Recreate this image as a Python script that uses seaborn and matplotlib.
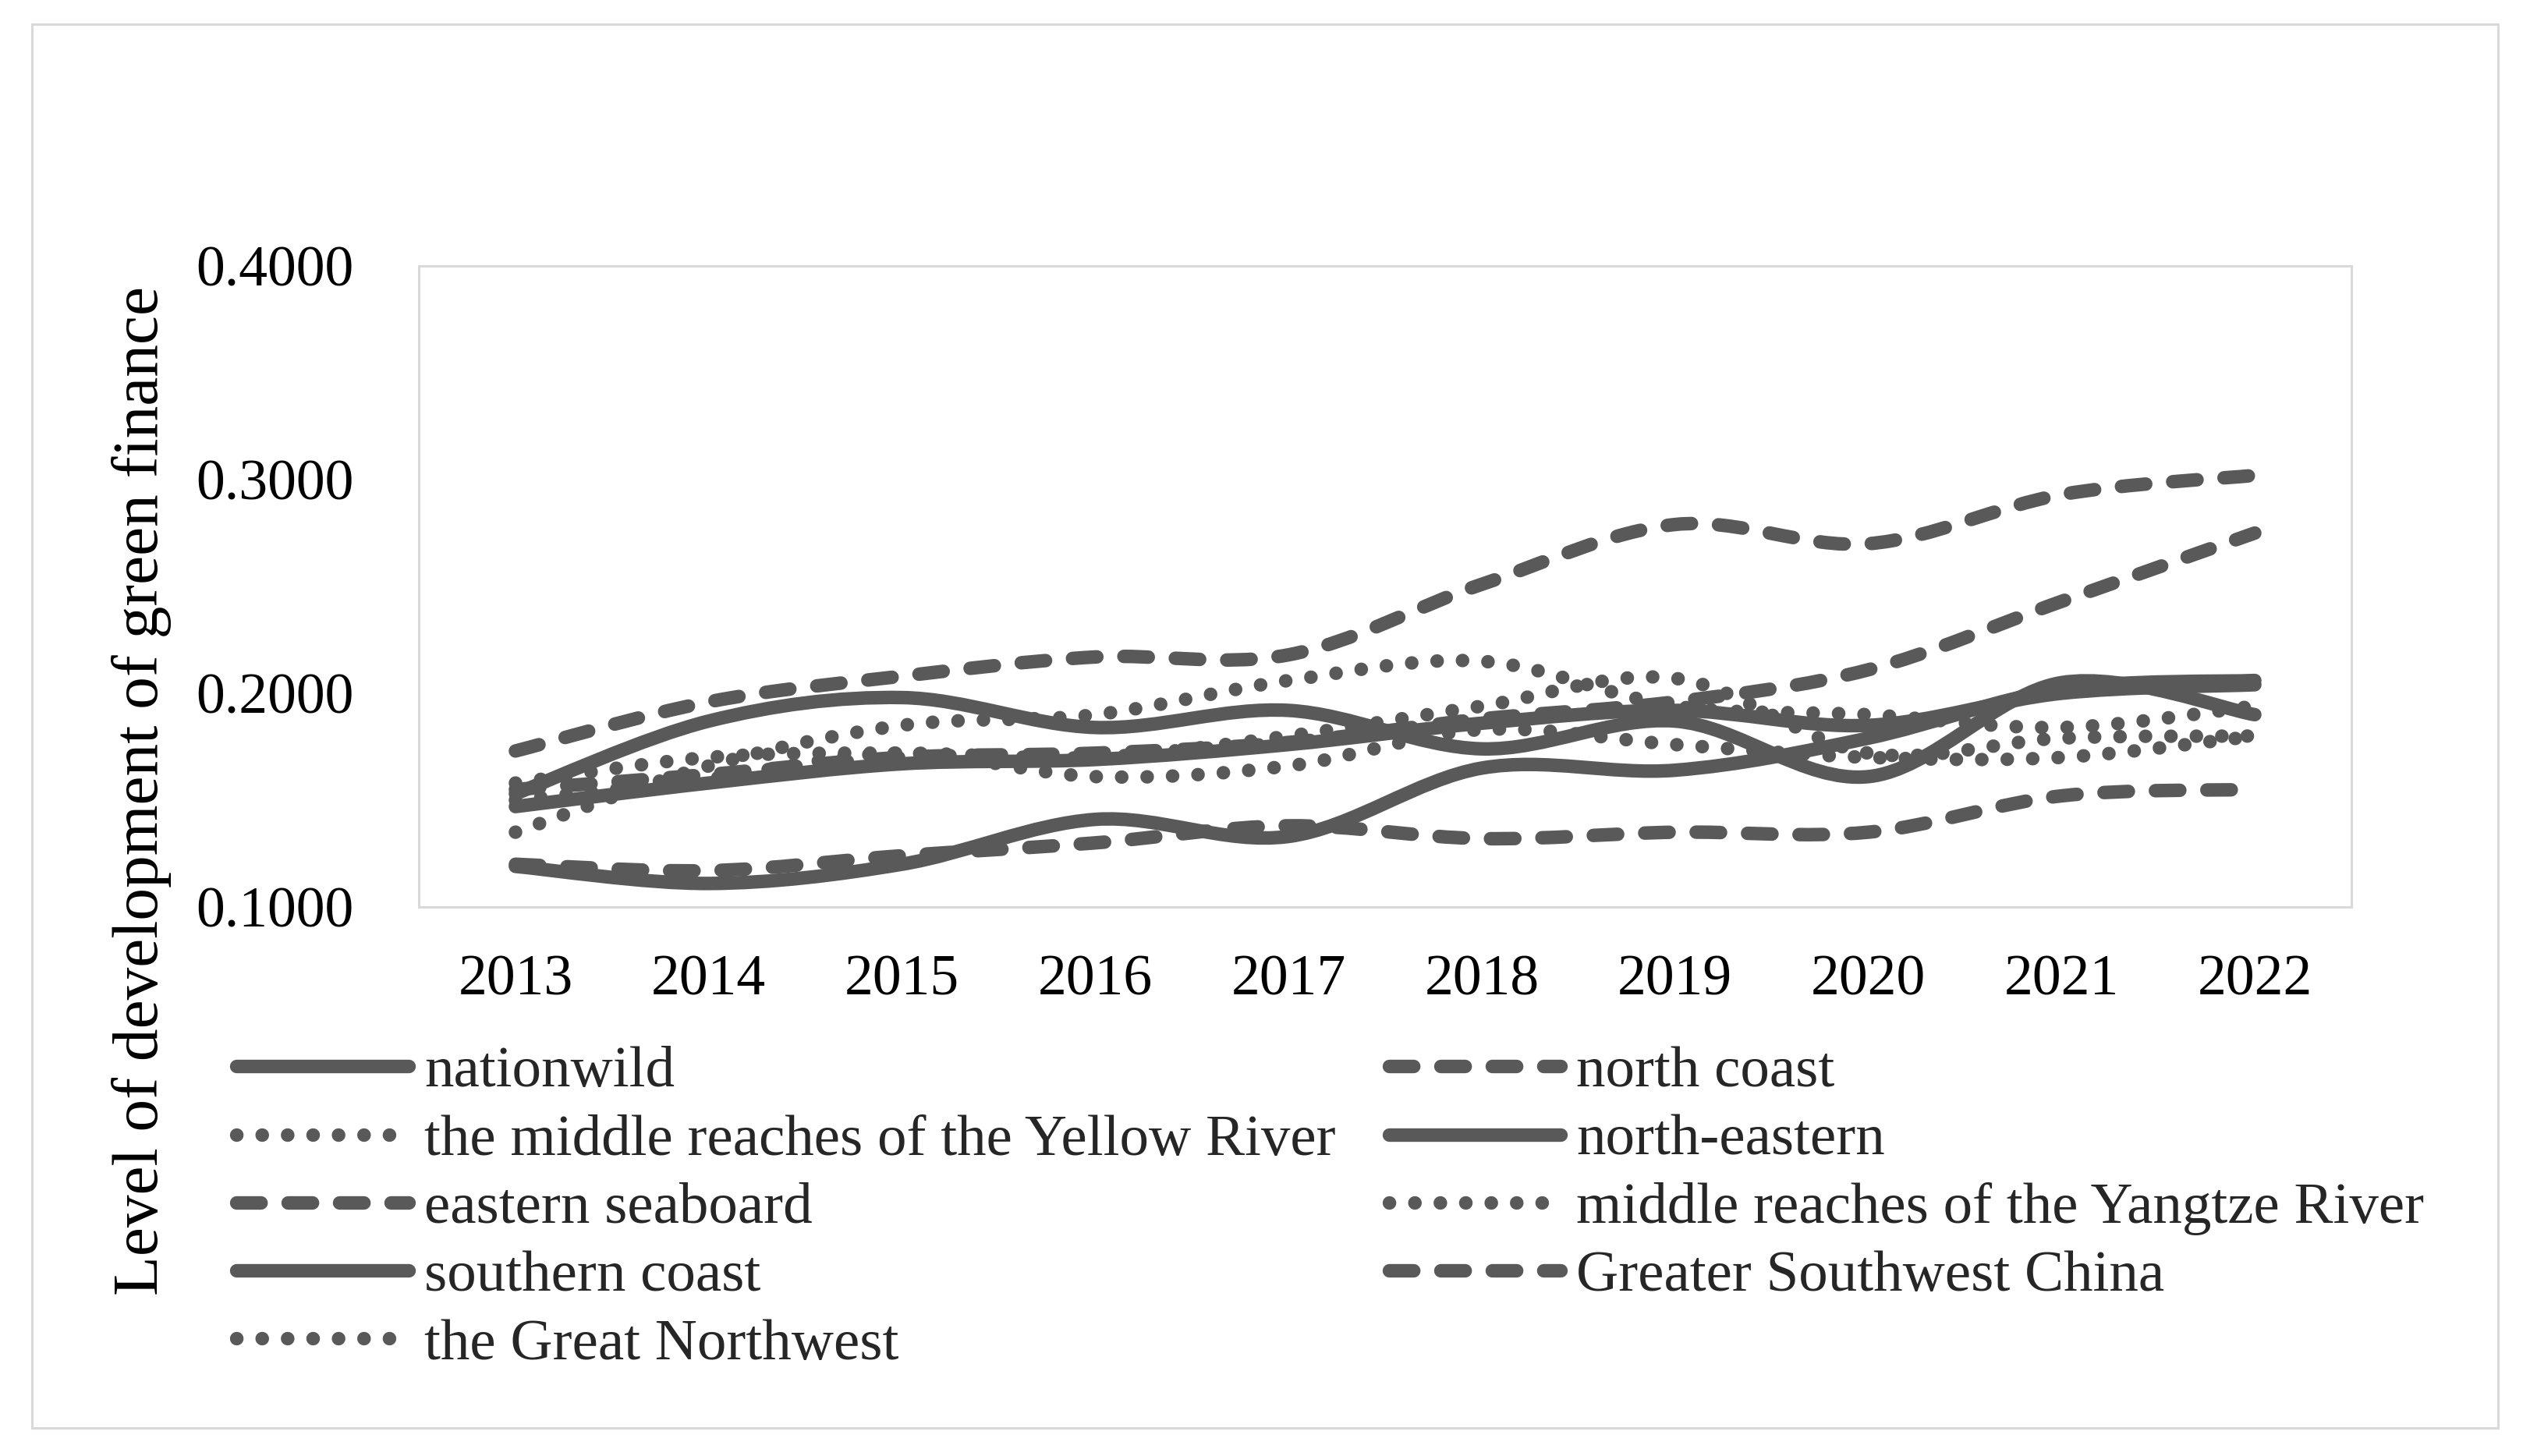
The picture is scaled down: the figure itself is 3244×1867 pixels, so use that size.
import numpy as np
import pandas as pd
import matplotlib
matplotlib.use("Agg")
import matplotlib.pyplot as plt
import seaborn as sns
from matplotlib.path import Path
from matplotlib.patches import PathPatch, Rectangle
from matplotlib.lines import Line2D

# ---------------- data ----------------
years = [2013, 2014, 2015, 2016, 2017, 2018, 2019, 2020, 2021, 2022]
nationwild        = [0.147, 0.158, 0.167, 0.169, 0.176, 0.186, 0.192, 0.185, 0.200, 0.204]
north_coast       = [0.155, 0.162, 0.170, 0.172, 0.177, 0.188, 0.196, 0.211, 0.243, 0.275]
yellow_river      = [0.135, 0.166, 0.185, 0.190, 0.206, 0.215, 0.194, 0.190, 0.184, 0.194]
north_eastern     = [0.153, 0.187, 0.198, 0.184, 0.192, 0.174, 0.187, 0.161, 0.205, 0.190]
eastern_seaboard  = [0.173, 0.196, 0.208, 0.217, 0.218, 0.251, 0.279, 0.270, 0.293, 0.302]
yangtze           = [0.158, 0.170, 0.172, 0.170, 0.180, 0.194, 0.207, 0.172, 0.179, 0.180]
southern_coast    = [0.119, 0.111, 0.120, 0.141, 0.133, 0.165, 0.164, 0.179, 0.202, 0.206]
greater_southwest = [0.120, 0.117, 0.124, 0.130, 0.138, 0.132, 0.135, 0.135, 0.152, 0.155]
great_northwest   = [0.150, 0.160, 0.172, 0.161, 0.166, 0.183, 0.176, 0.170, 0.170, 0.180]

labels = ["nationwild", "north coast", "the middle reaches of the Yellow River",
          "north-eastern", "eastern seaboard", "middle reaches of the Yangtze River",
          "southern coast", "Greater Southwest China", "the Great Northwest"]
series = [nationwild, north_coast, yellow_river, north_eastern, eastern_seaboard,
          yangtze, southern_coast, greater_southwest, great_northwest]
kinds = ["solid", "dashed", "dotted", "solid", "dashed", "dotted", "solid", "dashed", "dotted"]
yticks = [0.1, 0.2, 0.3, 0.4]
ylabel = "Level of development of green finance"

# ---------------- style ----------------
sns.set_theme(style="white")
plt.rcParams["font.family"] = ["Liberation Serif", "DejaVu Serif"]
W, H = 3244, 1867
FS_TICK = 53
FS_LEG = 54
LW = 12.5
COLOR = "#595959"
GRID = "#d9d9d9"
LS = {"solid": "-", "dashed": (0, (1.8, 2.0)), "dotted": (0, (0.01, 1.87))}

fig = plt.figure(figsize=(W / 100, H / 100), dpi=100)
fig.patches.append(Rectangle((41 / W, 1 - 1831 / H), (3203 - 41) / W, (1831 - 31) / H,
                             transform=fig.transFigure, fill=False,
                             edgecolor=GRID, lw=2.2))
ax = fig.add_axes([537 / W, 1 - 1163 / H, (3015 - 537) / W, (1163 - 341) / H])


def smooth_path(xy):
    pts = np.asarray(xy, dtype=float)
    n = len(pts)
    verts = [pts[0]]
    codes = [Path.MOVETO]
    for i in range(n - 1):
        p0 = pts[max(i - 1, 0)]
        p1 = pts[i]
        p2 = pts[i + 1]
        p3 = pts[min(i + 2, n - 1)]
        c1 = p1 + (p2 - p0) / 6.0
        c2 = p2 - (p3 - p1) / 6.0
        verts += [c1, c2, p2]
        codes += [Path.CURVE4] * 3
    return Path(verts, codes)


handles = []
for lab, vals, kind in zip(labels, series, kinds):
    df = pd.DataFrame({"year": years, "value": vals})
    sns.lineplot(data=df, x="year", y="value", ax=ax, color=COLOR, lw=LW,
                 linestyle=LS[kind], legend=False)
    line = ax.lines[-1]
    xy = line.get_xydata()
    line.set_visible(False)
    patch = PathPatch(smooth_path(xy), fill=False, edgecolor=COLOR, lw=LW,
                      linestyle=LS[kind], capstyle="round", joinstyle="round")
    ax.add_patch(patch)
    handles.append(Line2D([], [], color=COLOR, lw=LW, linestyle=LS[kind],
                          dash_capstyle="round", solid_capstyle="round"))

ax.set_xlim(2012.5, 2022.5)
ax.set_ylim(0.1, 0.4)
ax.set_xticks(years)
ax.set_xticklabels([str(y) for y in years])
ax.set_yticks(yticks)
ax.set_yticklabels([f"{v:.4f}" for v in yticks])
ax.set_xlabel("")
ax.set_ylabel("")
ax.tick_params(axis="both", length=0, labelsize=FS_TICK, colors="black")
ax.tick_params(axis="y", pad=60)
ax.tick_params(axis="x", pad=44)
for s in ax.spines.values():
    s.set_color(GRID)
    s.set_linewidth(2.2)
ax.grid(False)

fig.text(182 / W, 1 - 1014 / H, ylabel, rotation=90, ha="center", va="center",
         fontsize=60, color="black")

# legend: row-major order in reference -> column-major for matplotlib
order = [0, 2, 4, 6, 8, 1, 3, 5, 7]
fig.legend([handles[i] for i in order], [labels[i] for i in order], ncol=2,
           loc="upper left", bbox_to_anchor=(303 / W, 1 - 1341 / H),
           bbox_transform=fig.transFigure, frameon=False, fontsize=FS_LEG,
           handlelength=2.94, handletextpad=0.27, columnspacing=0.91,
           labelspacing=0.25, borderpad=0, borderaxespad=0)

fig.savefig("out.png", dpi=100, facecolor="white")
